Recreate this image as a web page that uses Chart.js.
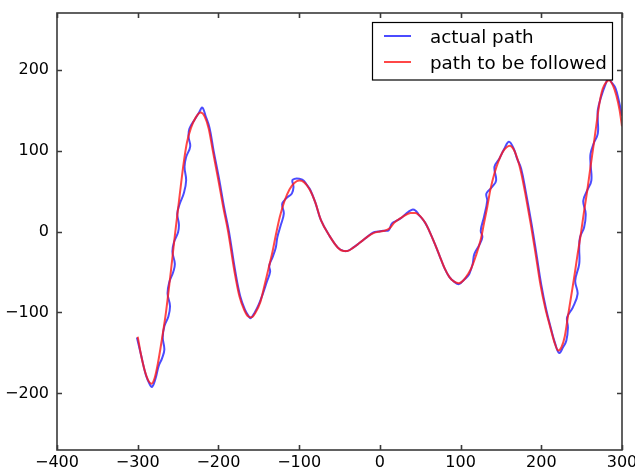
<!DOCTYPE html>
<html>
<head>
<meta charset="utf-8">
<script src="https://cdn.jsdelivr.net/npm/chart.js@4.4.1/dist/chart.umd.min.js"></script>
<style>
html,body{margin:0;padding:0;background:#fff;}
#c{display:block;}
</style>
</head>
<body>
<canvas id="c" width="635" height="471"></canvas>
<script>
// ---- data ----
const xTicks = [-400, -300, -200, -100, 0, 100, 200, 300];
const yTicks = [-200, -100, 0, 100, 200];
const seriesLabels = ['actual path', 'path to be followed'];

const plannedX = [-300,-296,-291,-287,-283,-279,-275,-270,-265,-259,-254,-248,-243,-239,-234,-228,-222,-217,-212,-207,-200,-194,-188,-180,-174,-168,-163,-159,-154,-148,-143,-138,-133,-129,-124,-118,-112,-106,-100,-94,-87,-80,-73,-62,-52,-45,-40,-33,-25,-16,-8,0,6,12,18,28,38,44,50,56,62,68,74,80,86,92,98,104,109,113,119,125,129,133,137,142,147,152,157,161,166,171,175,180,187,193,199,205,211,216,221,225,229,233,237,241,245,249,253,257,261,265,268,272,276,280,284,289,293,297,300];
const plannedY = [-130,-152,-173,-184,-188,-181,-163,-133,-100,-50,-5,45,85,110,128,141,147,142,127,100,63,30,0,-50,-80,-97,-105,-106,-100,-87,-67,-46,-25,-5,18,38,52,60,63,61,52,36,14,-6,-20,-24,-24,-20,-14,-7,-2,0,1,4,11,18,23,23,19,11,-1,-15,-30,-45,-56,-62,-64,-60,-53,-46,-30,-10,10,30,52,72,87,98,104,106,101,88,73,48,9,-28,-66,-95,-118,-136,-147,-143,-130,-105,-80,-55,-28,-3,25,51,80,108,130,158,176,184,187,180,168,150,130];

const actualX = [-301,-296,-290,-285,-282,-278,-274,-270,-267,-269,-267,-262,-260,-263,-261,-256,-254,-257,-255,-250,-249,-251,-248,-243,-240,-242,-240,-235,-237,-236,-229,-224,-220,-216,-211,-206,-199,-193,-187,-179,-173,-167,-163,-160,-155,-150,-145,-140,-136,-137,-133,-129,-127,-123,-119,-121,-116,-109,-107,-108,-96,-90,-86,-80,-73,-62,-52,-45,-40,-33,-25,-16,-8,-2,4,10,12,15,22,28,35,40,44,48,56,62,68,74,80,86,92,98,104,109,111,115,117,123,127,125,129,133,132,139,144,142,148,154,160,166,170,175,181,188,194,200,206,212,217,222,227,231,233,232,239,245,242,247,247,248,253,255,252,257,262,261,261,265,270,270,270,274,280,283,288,292,296,300];
const actualY = [-131,-152,-177,-189,-192,-182,-166,-157,-146,-131,-117,-105,-92,-77,-63,-50,-40,-25,-13,-1,9,22,34,47,63,80,92,105,117,127,139,147,153,143,128,100,64,30,0,-50,-80,-97,-104,-107,-100,-90,-77,-62,-50,-42,-32,-20,-7,7,22,34,41,47,55,64,64,57,51,36,14,-6,-20,-24,-24,-20,-14,-7,-1,0,1,1,3,10,14,18,24,27,26,21,11,-1,-15,-30,-45,-56,-62,-65,-60,-55,-52,-40,-28,-17,-7,1,18,38,47,55,63,80,90,102,111,102,90,78,48,9,-28,-66,-96,-120,-138,-150,-143,-135,-119,-106,-94,-77,-61,-40,-20,-7,5,22,38,51,63,84,96,109,121,138,150,166,183,189,183,177,162,143];

// ---- helpers ----
const pts = (xs, ys) => xs.map((x, i) => ({x: x, y: ys[i]}));
const fmt = v => (v < 0 ? '\u2212' + Math.abs(v) : String(v));
const FONT = 'DejaVu Sans';

const framePlugin = {
  id: 'frame',
  afterDraw(chart) {
    const ctx = chart.ctx, a = chart.chartArea;
    const sx = chart.scales.x, sy = chart.scales.y;
    ctx.save();
    ctx.strokeStyle = '#3a3a3a';
    ctx.lineWidth = 1.6;
    ctx.beginPath();
    xTicks.forEach(v => {
      const p = Math.round(sx.getPixelForValue(v)) + 0.5;
      ctx.moveTo(p, a.bottom); ctx.lineTo(p, a.bottom - 5);
      ctx.moveTo(p, a.top); ctx.lineTo(p, a.top + 5);
    });
    yTicks.forEach(v => {
      const p = Math.round(sy.getPixelForValue(v)) + 0.5;
      ctx.moveTo(a.left, p); ctx.lineTo(a.left + 5, p);
      ctx.moveTo(a.right, p); ctx.lineTo(a.right - 5, p);
    });
    ctx.stroke();
    ctx.strokeRect(a.left, a.top, a.right - a.left, a.bottom - a.top);

    // legend (upper right, inside the axes)
    const bx = 372.5, by = 22.5, bw = 240, bh = 57.5;
    ctx.fillStyle = '#fff';
    ctx.fillRect(bx, by, bw, bh);
    ctx.strokeStyle = '#000';
    ctx.lineWidth = 1.2;
    ctx.strokeRect(bx, by, bw, bh);
    const rows = [36, 62];
    chart.data.datasets.forEach((ds, i) => {
      const y = rows[i];
      ctx.strokeStyle = ds.borderColor;
      ctx.lineWidth = 2;
      ctx.beginPath();
      ctx.moveTo(384, y); ctx.lineTo(411, y);
      ctx.stroke();
      ctx.fillStyle = '#000';
      ctx.font = '18.3px "' + FONT + '"';
      ctx.textBaseline = 'alphabetic';
      ctx.textAlign = 'left';
      ctx.fillText(ds.label, 430, y + 7);
    });
    ctx.restore();
  }
};

new Chart(document.getElementById('c'), {
  type: 'scatter',
  data: {
    datasets: [
      {
        label: seriesLabels[0],
        data: pts(actualX, actualY),
        showLine: true,
        borderColor: 'rgba(30,30,255,0.8)',
        backgroundColor: 'rgba(30,30,255,0.8)',
        borderWidth: 2,
        pointRadius: 0,
        tension: 0.4,
        fill: false,
        order: 1
      },
      {
        label: seriesLabels[1],
        data: pts(plannedX, plannedY),
        showLine: true,
        borderColor: 'rgba(255,25,25,0.8)',
        backgroundColor: 'rgba(255,25,25,0.8)',
        borderWidth: 2,
        pointRadius: 0,
        cubicInterpolationMode: 'monotone',
        fill: false,
        order: 0
      }
    ]
  },
  options: {
    responsive: false,
    animation: false,
    events: [],
    layout: {padding: {top: 13, right: 13, left: 0, bottom: 0}},
    plugins: {legend: {display: false}, tooltip: {enabled: false}},
    scales: {
      x: {
        type: 'linear',
        min: -400, max: 300,
        afterBuildTicks: s => { s.ticks = xTicks.map(v => ({value: v})); },
        afterFit: s => { s.height = 21; s.paddingLeft = 0; s.paddingRight = 0; },
        ticks: {callback: fmt, color: '#000', font: {family: FONT, size: 16}, padding: 3, maxRotation: 0, autoSkip: false},
        grid: {display: false, drawTicks: false},
        border: {display: false}
      },
      y: {
        type: 'linear',
        min: -270, max: 270,
        afterBuildTicks: s => { s.ticks = yTicks.map(v => ({value: v})); },
        afterFit: s => { s.width = 57; s.paddingTop = 0; s.paddingBottom = 0; },
        ticks: {callback: fmt, color: '#000', font: {family: FONT, size: 16}, padding: 8, autoSkip: false},
        grid: {display: false, drawTicks: false},
        border: {display: false}
      }
    }
  },
  plugins: [framePlugin]
});
</script>
</body>
</html>
